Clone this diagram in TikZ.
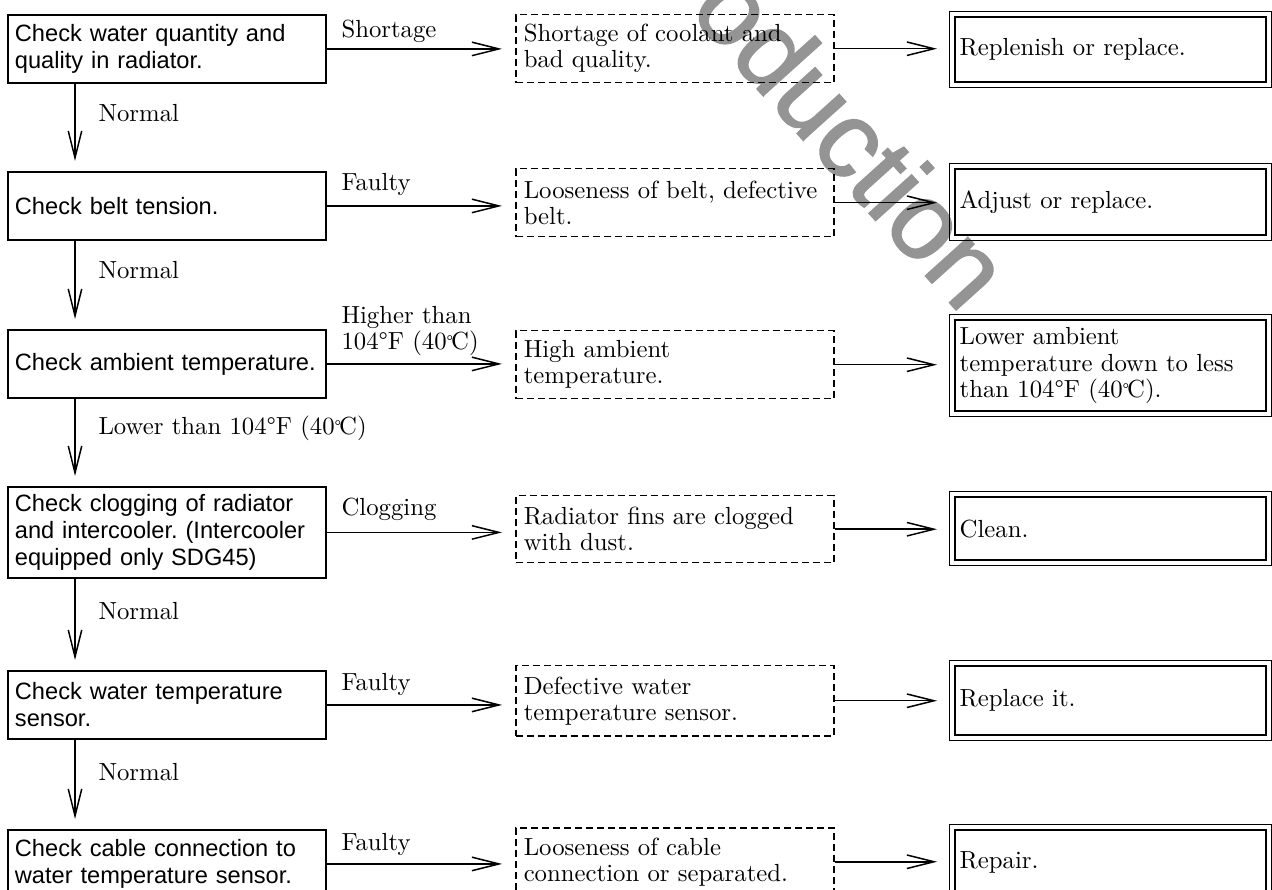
\documentclass[tikz,border=0pt]{standalone}
\usepackage{fontspec}
\newfontfamily\sansf{Liberation Sans}
\newfontfamily\wmfont[FakeBold=1.6]{Liberation Sans}
\usetikzlibrary{arrows.meta}
\newcommand{\dgC}{\raisebox{0.25ex}{\scalebox{0.7}{°}}\kern-0.08em C}
\hyphenpenalty=10000
\exhyphenpenalty=10000
\frenchspacing
\begin{document}
\begin{tikzpicture}[x=0.4pt,y=-0.4pt]
\tikzset{
  chk/.style={draw, line width=0.75pt, anchor=north west, inner xsep=2.8pt, inner ysep=0pt,
    text width=121.6pt, minimum width=127.2pt, align=left, font=\sansf\fontsize{9.45}{10.8}\selectfont},
  cause/.style={draw, line width=0.6pt, dash pattern=on 2.8pt off 1.6pt, anchor=north west,
    inner xsep=3.2pt, inner ysep=0pt, text width=120.8pt, minimum width=127.2pt, align=left,
    font=\fontsize{9.9}{10.4}\selectfont},
  fix/.style={draw, line width=0.55pt, anchor=north west, inner xsep=4pt, inner ysep=0pt,
    text width=120.8pt, minimum width=128.8pt, align=left, font=\fontsize{9.9}{10.6}\selectfont},
  arr/.style={line width=0.6pt, -{Straight Barb[length=10.8pt,width=5.4pt]}},
  lbl/.style={anchor=base west, inner sep=0pt, align=left, font=\fontsize{9.9}{9.2}\selectfont},
  wm/.style={text=black!42, inner sep=0pt, font=\wmfont\fontsize{43.2}{44}\selectfont},
}
\useasboundingbox (0,0) rectangle (1272,890);
\clip (0,0) rectangle (1272,890);
% watermark
\node[wm, rotate=-48, anchor=base west] (W) at (615,-69) {Production};

% check column
\node[chk, minimum height=27.2pt] (L1) at (7,14) {Check water quantity and\\quality in radiator.};
\node[chk, minimum height=27.2pt] (L2) at (7,171) {Check belt tension.};
\node[chk, minimum height=27.2pt] (L3) at (7,329) {Check ambient temperature.};
\node[chk, minimum height=36.4pt] (L4) at (7,486) {Check clogging of radiator\\and intercooler. (Intercooler\\equipped only SDG45)};
\node[chk, minimum height=27.2pt] (L5) at (7,670) {Check water temperature\\sensor.};
\node[chk, minimum height=27.2pt] (L6) at (7,829) {Check cable connection to\\water temperature sensor.};

% cause column
\node[cause, minimum height=27.2pt] (D1) at (515,14) {Shortage of coolant and\\bad quality.};
\node[cause, minimum height=27.2pt] (D2) at (515,168) {Looseness of belt, defective\\belt.};
\node[cause, minimum height=27.2pt] (D3) at (515,330) {High ambient\\temperature.};
\node[cause, minimum height=26.8pt] (D4) at (515,495) {Radiator fins are clogged\\with dust.};
\node[cause, minimum height=28pt] (D5) at (515,665) {Defective water\\temperature sensor.};
\node[cause, minimum height=27.2pt] (D6) at (515,827) {Looseness of cable\\connection or separated.};

% remedy column
\node[fix, minimum height=30.4pt] (B1) at (949,11) {Replenish or replace.};
\node[fix, minimum height=30.8pt] (B2) at (949,163) {Adjust or replace.};
\node[fix, minimum height=40.8pt] (B3) at (949,314) {Lower ambient\\temperature down to less\\than 104°F (40\dgC).};
\node[fix, minimum height=29.6pt] (B4) at (949,491) {Clean.};
\node[fix, minimum height=32pt] (B5) at (949,660) {Replace it.};
\node[fix, minimum height=30.4pt] (B6) at (949,824) {Repair.};
\foreach \b in {B1,B2,B3,B4,B5,B6}
  \draw[line width=0.8pt] ([shift={(6,6)}]\b.north west) rectangle ([shift={(-6,-6)}]\b.south east);

% vertical connectors
\draw[arr, shorten >=4pt] ([xshift=27.2pt]L1.south west) -- ([xshift=27.2pt]L2.north west);
\draw[arr, shorten >=4pt] ([xshift=27.2pt]L2.south west) -- ([xshift=27.2pt]L3.north west);
\draw[arr, shorten >=4pt] ([xshift=27.2pt]L3.south west) -- ([xshift=27.2pt]L4.north west);
\draw[arr, shorten >=4pt] ([xshift=27.2pt]L4.south west) -- ([xshift=27.2pt]L5.north west);
\draw[arr, shorten >=4pt] ([xshift=27.2pt]L5.south west) -- ([xshift=27.2pt]L6.north west);

% horizontal connectors
\foreach \i in {1,...,6} {
  \draw[arr, shorten >=5.2pt] (L\i.east) -- (L\i.east -| D\i.west);
  \draw[arr, shorten >=4.8pt] (D\i.east) -- (D\i.east -| B\i.west);
}

% labels
\node[lbl] (n1) at (98,122) {Normal};
\node[lbl] (n2) at (98,279) {Normal};
\node[lbl] (lt) at (98,435) {Lower than 104°F (40\dgC)};
\node[lbl] (n3) at (98,620) {Normal};
\node[lbl] (n4) at (98,780) {Normal};
\node[lbl] (s1) at (341,38) {Shortage};
\node[lbl] (f2) at (341,191) {Faulty};
\node[lbl, anchor=north west] (h3) at (341,306) {Higher than\\104°F (40\dgC)};
\node[lbl] (c4) at (341,516) {Clogging};
\node[lbl] (f5) at (341,691) {Faulty};
\node[lbl] (f6) at (341,850) {Faulty};
\end{tikzpicture}
\end{document}
